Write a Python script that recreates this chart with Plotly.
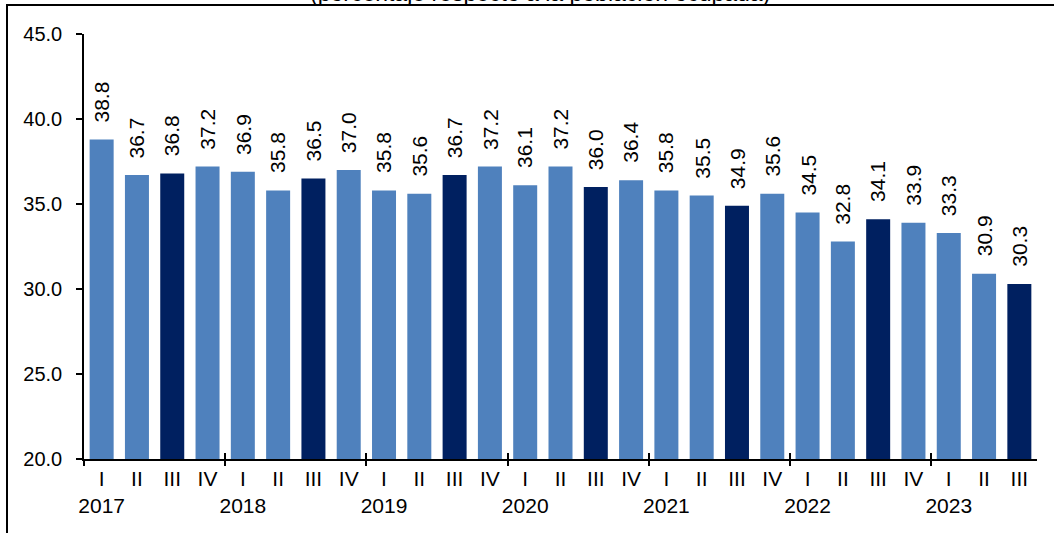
import plotly.graph_objects as go

years = ["2017", "2018", "2019", "2020", "2021", "2022", "2023"]
quarters = ["I", "II", "III", "IV"]
values = [38.8, 36.7, 36.8, 37.2,
          36.9, 35.8, 36.5, 37.0,
          35.8, 35.6, 36.7, 37.2,
          36.1, 37.2, 36.0, 36.4,
          35.8, 35.5, 34.9, 35.6,
          34.5, 32.8, 34.1, 33.9,
          33.3, 30.9, 30.3]
ytick_vals = [20, 25, 30, 35, 40, 45]
title_text = "(porcentaje respecto a la población ocupada)"

LIGHT = "#4F81BD"
DARK = "#002060"
FONT = "Liberation Sans, Arial, sans-serif"

n = len(values)
xs = list(range(n))
q_labels = [quarters[i % 4] for i in xs]
tick_text = [q + ("<br>" + years[i // 4] if q == "I" else "<br> ") for i, q in enumerate(q_labels)]
colors = [DARK if q == "III" else LIGHT for q in q_labels]
year_bounds = [i - 0.5 for i in xs if i % 4 == 0]

fig = go.Figure()
fig.add_trace(go.Bar(x=xs, y=values, marker=dict(color=colors, line=dict(width=0)),
                     hoverinfo="x+y", showlegend=False))
# helper invisible traces for the tick-mark axes
for ax in ["x2", "x3"]:
    fig.add_trace(go.Scatter(x=[year_bounds[0]], y=[20], xaxis=ax, mode="markers",
                             marker=dict(opacity=0), hoverinfo="skip", showlegend=False))

for x, v in zip(xs, values):
    fig.add_annotation(x=x, y=v, text=f"{v:.1f}", textangle=-90, showarrow=False,
                       xanchor="center", yanchor="bottom", yshift=15,
                       font=dict(family=FONT, size=21, color="black"))

L, R, T, B = 84, 17, 34, 74
W, H = 1054, 533
pw, ph = W - L - R, H - T - B

fig.add_annotation(xref="paper", yref="paper", x=(540 - L) / pw, y=(H - B - 8) / ph,
                   text=title_text, showarrow=False, xanchor="center", yanchor="bottom",
                   font=dict(family=FONT, size=23, color="black"))

# outer frame
fig.add_shape(type="rect", xref="paper", yref="paper",
              x0=(7 - L) / pw, x1=(W + 10 - L) / pw,
              y0=-(B + 10) / ph, y1=(H - B - 5) / ph,
              line=dict(color="black", width=2), fillcolor="rgba(0,0,0,0)", layer="above")

rng = [-0.5, n - 0.5]
fig.update_layout(
    width=W, height=H,
    margin=dict(l=L, r=R, t=T, b=B, autoexpand=False),
    paper_bgcolor="white", plot_bgcolor="white",
    bargap=0.32,
    font=dict(family=FONT, color="black"),
    xaxis=dict(range=rng, tickmode="array", tickvals=xs, ticktext=tick_text,
               ticks="", showline=True, linecolor="black", linewidth=1.5,
               showgrid=False, zeroline=False, tickfont=dict(size=21), tickangle=0,
               fixedrange=True),
    xaxis2=dict(range=rng, overlaying="x", anchor="y", side="bottom", tickmode="array",
                tickvals=year_bounds, ticks="outside", ticklen=6, tickwidth=1.5,
                tickcolor="black", showticklabels=False, showgrid=False, zeroline=False,
                showline=False),
    xaxis3=dict(range=rng, overlaying="x", anchor="y", side="bottom", tickmode="array",
                tickvals=year_bounds, ticks="inside", ticklen=6, tickwidth=1.5,
                tickcolor="black", showticklabels=False, showgrid=False, zeroline=False,
                showline=False),
    yaxis=dict(range=[20, 45], tickmode="array", tickvals=ytick_vals,
               ticktext=[f"{v:.1f}" for v in ytick_vals], ticks="outside", ticklen=6,
               tickwidth=1.5, tickcolor="black", showline=True, linecolor="black",
               linewidth=1.5, showgrid=False, zeroline=False, tickfont=dict(size=20),
               ticklabelstandoff=10, fixedrange=True),
)

fig.write_html("out.html", config={"displayModeBar": False},
               post_script="document.body.style.margin='0px';document.body.style.overflow='hidden';")
